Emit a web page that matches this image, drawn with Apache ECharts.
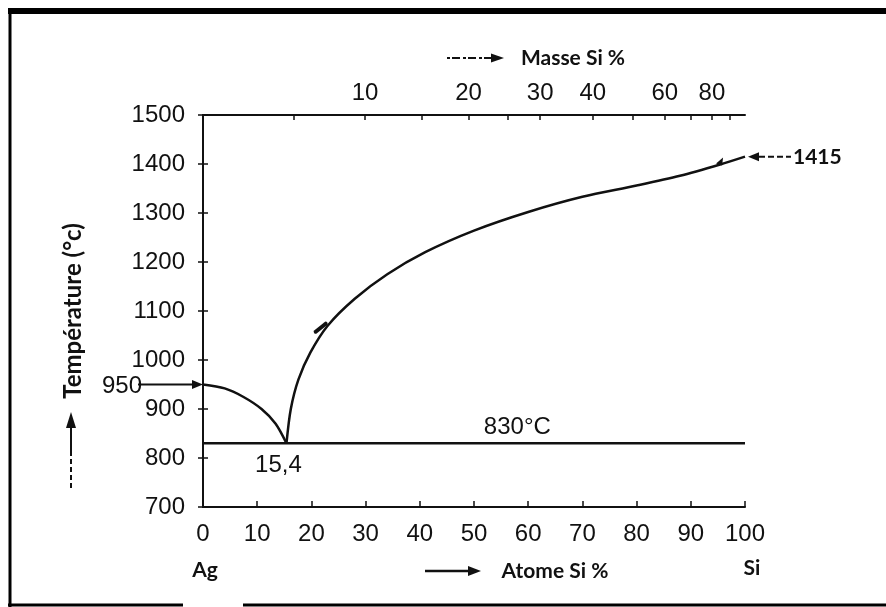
<!DOCTYPE html>
<html>
<head>
<meta charset="utf-8">
<script src="https://cdn.jsdelivr.net/npm/echarts@6/dist/echarts.min.js"></script>
<style>
  html, body { margin: 0; padding: 0; background: #fff; }
  #chart { width: 886px; height: 607px; }
</style>
</head>
<body>
<div id="chart"></div>
<script>
// Ag–Si binary phase diagram (temperature vs. Si content)

// Temperature axis (°C)
const tempMin = 700;
const tempMax = 1500;
const tempStep = 100;

// Bottom axis: atomic % Si
const atomMin = 0;
const atomMax = 100;
const atomStep = 10;

// Top axis: mass % Si (ticks and labelled values)
const massTicks = [5, 10, 15, 20, 25, 30, 40, 50, 60, 70, 80, 90];
const massLabels = [10, 20, 30, 40, 60, 80];

// Liquidus on the silver side: [atomic % Si, °C]
const liquidusAg = [[0, 950], [4, 942], [7.4, 925], [10.8, 900], [13.4, 870], [15.4, 830]];

// Liquidus on the silicon side: [atomic % Si, °C]
const liquidusSi = [
  [15.4, 830], [16.2, 900], [17.6, 960], [19.8, 1015], [23, 1070],
  [28, 1125], [34, 1175], [41, 1220], [50, 1264], [60, 1302],
  [70, 1333], [80, 1356], [88, 1376], [95.4, 1399], [100, 1415]
];

// Invariant points
const eutecticAt = 15.4;
const eutecticT = 830;
const meltAg = 950;
const meltSi = 1415;
const eutecticLabelAt = 58;

// Atomic masses used to place the mass-% scale on the atomic-% axis
const M_SI = 28.0855;
const M_AG = 107.8682;
function massToAtom(w) {
  const nSi = w / M_SI;
  const nAg = (100 - w) / M_AG;
  return 100 * nSi / (nSi + nAg);
}
const massTickPos = massTicks.map(massToAtom);
const massLabelPos = massLabels.map(massToAtom);

const tickFont = 'Liberation Sans';
const boldFont = 'Lato';
const ink = '#111';

const chart = echarts.init(document.getElementById('chart'), null, { renderer: 'canvas' });

const axisLine = { show: true, lineStyle: { color: ink, width: 2 } };
const tickLabel = { color: ink, fontFamily: tickFont, fontSize: 24 };

chart.setOption({
  animation: false,
  backgroundColor: '#fff',
  grid: { left: 203, right: 141, top: 115, bottom: 100, containLabel: false },
  xAxis: [
    {
      type: 'value', position: 'bottom',
      min: atomMin, max: atomMax, interval: atomStep,
      axisLine: axisLine,
      axisTick: { show: true, inside: true, length: 6, lineStyle: { color: ink, width: 1.5 } },
      axisLabel: Object.assign({ margin: 15, formatter: v => String(v) }, tickLabel),
      splitLine: { show: false }
    },
    {
      type: 'value', position: 'top',
      min: atomMin, max: atomMax,
      axisLine: axisLine,
      axisTick: { show: true, inside: true, length: 5, customValues: massTickPos,
                  lineStyle: { color: ink, width: 1.5 } },
      axisLabel: Object.assign({
        show: true, margin: 10,
        customValues: massLabelPos,
        formatter: function (v) {
          for (let i = 0; i < massLabelPos.length; i++) {
            if (Math.abs(massLabelPos[i] - v) < 0.01) return String(massLabels[i]);
          }
          return '';
        }
      }, tickLabel),
      splitLine: { show: false }
    }
  ],
  yAxis: [
    {
      type: 'value', position: 'left',
      min: tempMin, max: tempMax, interval: tempStep,
      axisLine: axisLine,
      axisTick: { show: true, inside: true, length: 5, lineStyle: { color: ink, width: 1.5 } },
      axisLabel: Object.assign({ margin: 18, formatter: v => String(v) }, tickLabel),
      splitLine: { show: false }
    },
    {
      type: 'value', position: 'right',
      min: tempMin, max: tempMax, interval: tempStep,
      axisLine: axisLine,
      axisTick: { show: true, inside: true, length: 5, lineStyle: { color: ink, width: 1.5 } },
      axisLabel: { show: false },
      splitLine: { show: false }
    }
  ],
  series: [
    {
      name: 'liquidus Ag', type: 'line', data: liquidusAg,
      smooth: 0.3, showSymbol: false, symbol: 'none',
      lineStyle: { color: ink, width: 2.5 }
    },
    {
      name: 'liquidus Si', type: 'line', data: liquidusSi,
      smooth: 0.3, showSymbol: false, symbol: 'none',
      lineStyle: { color: ink, width: 2.5 }
    },
    {
      name: 'eutectic', type: 'line',
      data: [[atomMin, eutecticT], [atomMax, eutecticT]],
      showSymbol: false, symbol: 'none',
      lineStyle: { color: ink, width: 2.4 }
    },
    {
      name: 'labels', type: 'scatter', symbolSize: 0, silent: true,
      itemStyle: { opacity: 1 },
      data: [
        { value: [eutecticLabelAt, eutecticT], label: Object.assign({
            show: true, position: 'top', distance: 4,
            formatter: eutecticT + '°C' }, tickLabel) },
        { value: [eutecticAt, eutecticT], label: Object.assign({
            show: true, position: 'bottom', distance: 10, offset: [-8, 0],
            formatter: String(eutecticAt).replace('.', ',') }, tickLabel) }
      ]
    }
  ]
});

// Annotations placed from the axis scales
const xLeft = chart.convertToPixel({ xAxisIndex: 0 }, atomMin);
const xRight = chart.convertToPixel({ xAxisIndex: 0 }, atomMax);
const yAg = chart.convertToPixel({ yAxisIndex: 0 }, meltAg);
const ySi = chart.convertToPixel({ yAxisIndex: 0 }, meltSi);
// small direction marks drawn beside the silicon liquidus
const markA = chart.convertToPixel({ xAxisIndex: 0, yAxisIndex: 0 }, liquidusSi[4]);
const markB = chart.convertToPixel({ xAxisIndex: 0, yAxisIndex: 0 }, liquidusSi[13]);

const stroke = { stroke: ink, lineWidth: 2 };
const boldText = (x, y, text, align) => ({
  type: 'text', x: x, y: y,
  style: { text: text, fill: ink, font: 'bold 21px ' + boldFont,
           align: align || 'center', verticalAlign: 'middle' }
});

chart.setOption({
  graphic: [
    // outer frame
    { type: 'line', shape: { x1: 8, y1: 11, x2: 886, y2: 11 }, style: { stroke: '#000', lineWidth: 6 } },
    { type: 'line', shape: { x1: 10, y1: 8, x2: 10, y2: 607 }, style: { stroke: '#000', lineWidth: 3 } },
    { type: 'line', shape: { x1: 8, y1: 605, x2: 183, y2: 605 }, style: { stroke: '#000', lineWidth: 3 } },
    { type: 'line', shape: { x1: 243, y1: 605, x2: 886, y2: 605 }, style: { stroke: '#000', lineWidth: 3 } },

    // temperature axis title with upward arrow
    {
      type: 'text', x: 73, y: 311, rotation: Math.PI / 2,
      style: { text: 'Température (°c)', fill: ink, font: 'bold 24px ' + boldFont,
               align: 'center', verticalAlign: 'middle' }
    },
    { type: 'line', shape: { x1: 71, y1: 488, x2: 71, y2: 452 }, style: { stroke: ink, lineWidth: 2, lineDash: [5, 3] } },
    { type: 'line', shape: { x1: 71, y1: 452, x2: 71, y2: 426 }, style: stroke },
    { type: 'polygon', shape: { points: [[71, 412], [66, 428], [76, 428]] }, style: { fill: ink } },

    // melting point of silver
    {
      type: 'text', x: 142, y: yAg + 2,
      style: { text: String(meltAg), fill: ink, font: '24px ' + tickFont,
               align: 'right', verticalAlign: 'middle' }
    },
    { type: 'line', shape: { x1: 138, y1: yAg, x2: xLeft - 8, y2: yAg }, style: stroke },
    { type: 'polygon', shape: { points: [[xLeft, yAg], [xLeft - 11, yAg - 4.5], [xLeft - 11, yAg + 4.5]] }, style: { fill: ink } },

    // melting point of silicon
    { type: 'polygon', shape: { points: [[xRight + 3, ySi], [xRight + 14, ySi - 4.5], [xRight + 14, ySi + 4.5]] }, style: { fill: ink } },
    { type: 'line', shape: { x1: xRight + 14, y1: ySi, x2: xRight + 46, y2: ySi }, style: { stroke: ink, lineWidth: 2, lineDash: [6, 3] } },
    boldText(xRight + 48, ySi + 1, String(meltSi), 'left'),

    // direction marks along the liquidus
    { type: 'line', shape: { x1: markA[0] - 12, y1: markA[1] + 6, x2: markA[0] - 2, y2: markA[1] - 2 },
      style: { stroke: ink, lineWidth: 4, lineCap: 'round' } },
    { type: 'polygon', shape: { points: [[markB[0] - 4, markB[1] - 1], [markB[0] + 3, markB[1] - 7], [markB[0] + 2, markB[1] + 1]] },
      style: { fill: ink } },

    // top axis title
    { type: 'line', shape: { x1: 447, y1: 58, x2: 492, y2: 58 }, style: { stroke: ink, lineWidth: 2, lineDash: [3, 2, 8, 3] } },
    { type: 'polygon', shape: { points: [[504, 58], [491, 53.5], [491, 62.5]] }, style: { fill: ink } },
    boldText(573, 58, 'Masse Si %'),

    // bottom axis title and components
    { type: 'line', shape: { x1: 425, y1: 571, x2: 469, y2: 571 }, style: { stroke: ink, lineWidth: 2.5 } },
    { type: 'polygon', shape: { points: [[481, 571], [468, 566], [468, 576]] }, style: { fill: ink } },
    boldText(555, 571, 'Atome Si %'),
    boldText(205, 570, 'Ag'),
    boldText(752, 568, 'Si')
  ]
});
</script>
</body>
</html>
